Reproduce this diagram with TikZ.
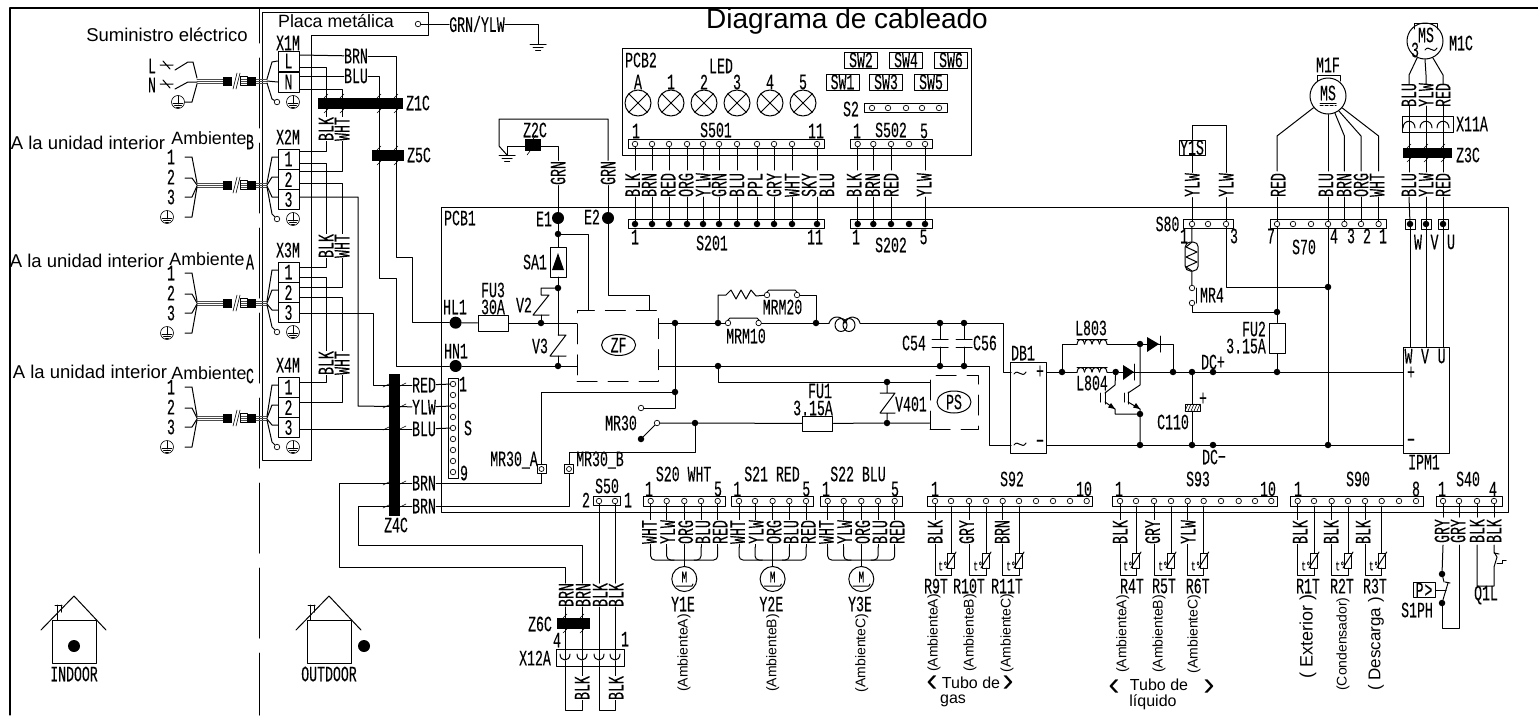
\documentclass[tikz,border=0pt]{standalone}
\usepackage{fontspec}
\setmainfont{Liberation Sans}
\newfontfamily\gothic[FakeStretch=0.6,FakeBold=0.15]{Liberation Mono}
\usetikzlibrary{arrows,shapes.geometric}
\tikzset{
  wire/.style={line width=1pt},
  thin wire/.style={line width=0.6pt},
  lbl/.style={font=\gothic\fontsize{22}{22}\selectfont,inner sep=0pt},
  vlbl/.style={lbl,rotate=90,fill=white,inner sep=0.5pt},
  arial/.style={font=\fontsize{18.5}{20}\selectfont,inner sep=0pt,align=left},
  amb/.style={font=\fontsize{17.8}{20}\selectfont,inner sep=0pt},
  varial/.style={font=\fontsize{14}{14}\selectfont,inner sep=0pt,rotate=90},
  pin/.style={circle,draw,line width=0.7pt,fill=white,minimum size=5.5pt,inner sep=0pt},
  pinb/.style={circle,fill=black,minimum size=6.5pt,inner sep=0pt},
  dot/.style={circle,fill=black,minimum size=6.5pt,inner sep=0pt},
  bigdot/.style={circle,fill=black,minimum size=12pt,inner sep=0pt},
  conbox/.style={draw,line width=1pt,fill=white,minimum height=9.5pt,inner sep=0pt},
  fuse/.style={draw,line width=1pt,inner sep=0pt},
  row/.style={lbl,draw,line width=1pt,minimum width=21pt,minimum height=20pt},
  swbox/.style={lbl,draw,line width=1pt,minimum width=33pt,minimum height=16pt},
  cbar/.style={fill=black,inner sep=0pt},
  motor/.style={circle,draw,line width=1pt,inner sep=0pt},
  zbox/.style={draw,dash pattern=on 20pt off 11pt,line width=1pt,inner sep=0pt},
  gnd/.pic={\draw[wire] (-8,0)--(8,0) (-5,3)--(5,3) (-2.5,6)--(2.5,6);},
  earth/.pic={\draw[thin wire] (0,0) circle (6.5);
    \draw[thin wire] (0,-6)--(0,2) (-5,1)--(5,1) (-3.5,3)--(3.5,3) (-1.5,5)--(1.5,5);},
  cable/.pic={\foreach \d in {-2,0,2} \draw[line width=1pt,black!70] (0,\d)--(70,\d);
    \fill[white] (35,-5) rectangle (43,5);
    \fill (26,-4.5) rectangle (35,4.5);
    \fill (50,-4.5) rectangle (59,4.5);
    \draw[thin wire] (43,-4.5) rectangle (50,4.5);
    \draw[thin wire] (36,8)--(40,-8) (39,8)--(43,-8);},
  coil/.pic={\foreach \i in {0,1,2,3}
      \draw[wire] (7.5*\i,0) .. controls +(0,-6) and +(0,-6) .. +(7.5,0);
    \draw[wire] (0,-5) -- (30,-5);},
  wave/.pic={\draw[wire] (-6,1) .. controls (-2,-5) and (2,6) .. (6,-1);}
}
\begin{document}
\begin{tikzpicture}[line cap=round,line join=round,>=triangle 45,x=1pt,y=-1pt]
\clip (0,0) rectangle (1538,715);
\draw [line width=1.1pt] (1538,8) -- (10,8) -- (10,715);
\draw [line width=1pt,dash pattern=on 70pt off 15pt,dash phase=35pt] (259,8) -- (259,715);
\draw [wire] (262,12) -- (428,12) -- (428,35) -- (311.5,35) -- (311.5,460) -- (262,460) -- cycle;
\node[font=\fontsize{28}{28}\selectfont,inner sep=0pt] (title) at (847,21) {Diagrama de cableado};
\node[amb] (placa) at (336,21) {Placa metálica};
\node[pin] (plate) at (418,24) {};
\node[lbl] (lgrnylw) at (477,24) {GRN/YLW};
\coordinate (earthtop) at (538,44);
\draw [wire] (plate) -- (lgrnylw);
\draw [wire] (lgrnylw) -- (538,24) -- (earthtop);
\pic at (earthtop) {gnd};
\node[arial] (suministro) at (167,35) {Suministro eléctrico};
\node[arial] (interb) at (88,143) {A la unidad interior};
\node[arial] (intera) at (87,261) {A la unidad interior};
\node[arial] (interc) at (90,372) {A la unidad interior};
\node[amb] (ambb) at (209,138) {Ambiente};
\node[amb] (ambat) at (207,259) {Ambiente};
\node[amb] (ambc) at (209,373) {Ambiente};
\node[lbl] (tagb) at (250,142) {B};
\node[lbl] (taga) at (250,262) {A};
\node[lbl] (tagc) at (250,376) {C};

\node[lbl] (x1m) at (288,43) {X1M};
\node[row] (x1m-l) at (288.5,61) {L};
\node[row] (x1m-n) at (288.5,82) {N};
\node[lbl] (ll) at (152,66) {L};
\node[lbl] (ln) at (152,85) {N};
\draw [wire] (160,65) -- (173,65) (163,61) -- (170,69);
\draw [wire] (160,84) -- (173,84) (163,80) -- (170,88);
\draw [wire] (175,70) -- (188,62) -- (193,62) -- (197,78);
\draw [wire] (175,89) -- (188,82) -- (197,82);
\pic at (178,102) {earth};
\draw [wire] (185,102) -- (192,102) -- (197,84);
\pic at (197,81) {cable};
\node[pin] (x1m-e) at (277,102) {};
\pic at (293,102) {earth};
\draw [wire] (267,79) -- (272,62) -- (x1m-l.west);
\draw [wire] (267,81) -- (x1m-n.west);
\draw [wire] (267,83) -- (272,99) -- (x1m-e);

\foreach \n/\c/\t/\l/\N in {x2m/185/149/157/X2M,x3m/303/262/273/X3M,x4m/418/377/387/X4M} {
  \node[row] (\n-1) at (288.5,\t+10) {1};
  \node[row] (\n-2) at (288.5,\t+30.5) {2};
  \node[row] (\n-3) at (288.5,\t+50.5) {3};
  \node[lbl] (l\n) at (288,\t-12) {\N};
  \node[pin] (\n-e) at (277,\t+70) {};
  \pic at (293,\t+70) {earth};
  \pic at (197,\c) {cable};
  \node[lbl] (f\n-1) at (171,\l) {1};
  \node[lbl] (f\n-2) at (171,\l+20) {2};
  \node[lbl] (f\n-3) at (171,\l+40) {3};
  \pic at (167,\l+60) {earth};
  \draw [wire] (185,\l) -- (192,\l) -- (197,\c-2);
  \draw [wire] (185,\l+21) -- (192,\l+21) -- (197,\c);
  \draw [wire] (185,\l+40) -- (192,\l+40) -- (197,\c+1);
  \draw [wire] (185,\l+60) -- (192,\l+60) -- (197,\c+2);
  \draw [wire] (267,\c-2) -- (272,\t+8) -- (278,\t+8);
  \draw [wire] (267,\c) -- (272,\t+28) -- (278,\t+28);
  \draw [wire] (267,\c+1) -- (272,\t+48) -- (278,\t+48);
  \draw [wire] (267,\c+2) -- (272,\t+65) -- (\n-e);
}

\draw [wire] (441.4,207) rectangle (1508,512);
\draw [wire] (622.7,48) rectangle (971.7,155);
\node[lbl] (pcb1) at (460,218) {PCB1};
\node[lbl] (pcb2) at (641,60) {PCB2};
\node[lbl] (led) at (721,66) {LED};
\node[swbox] (sw2) at (861,60) {SW2};
\node[swbox] (sw4) at (906,60) {SW4};
\node[swbox] (sw6) at (951,60) {SW6};
\node[swbox] (sw1) at (842.5,82) {SW1};
\node[swbox] (sw3) at (886,82) {SW3};
\node[swbox] (sw5) at (931,82) {SW5};
\foreach \i/\x/\t in {a/638/A,b/671/1,c/704/2,d/737/3,e/770/4,f/803/5} {
  \node[lbl] (lamptxt\i) at (\x,82) {\t};
  \draw [wire] (\x,103) circle (13);
  \draw [wire] (\x-9.2,103-9.2) -- (\x+9.2,103+9.2) (\x-9.2,103+9.2) -- (\x+9.2,103-9.2);
}
\node[lbl] (ls2) at (851,109) {S2};
\node[conbox,minimum width=83pt] (cs2) at (905.5,108) {};
\foreach \x in {872,888,906,922,939} \node[pin] (s2-\x) at (\x,108) {};

\node[conbox,minimum width=196pt] (cs501) at (726,144) {};
\node[conbox,minimum width=196pt] (cs201) at (726,224) {};
\node[conbox,minimum width=82pt] (cs502) at (891.7,144) {};
\node[conbox,minimum width=82pt] (cs202) at (891.7,224) {};
\foreach \i/\x in {1/635,2/652,3/669,4/687,5/703,6/719,7/737,8/757,9/774,10/792,11/817} {
  \node[pin] (s501-\i) at (\x,144) {};
  \node[pinb] (s201-\i) at (\x,224) {};
  \draw [wire] (s501-\i) -- (\x,170);
  \draw [wire] (\x,197) -- (s201-\i);
}
\foreach \i/\x/\t in {1/632.7/BLK,2/649/BRN,3/668/RED,4/686/ORG,5/703/YLW,6/719/GRN,7/737/BLU,8/755/PPL,9/774/GRY,10/792/WHT,11/809/SKY,12/827/BLU}
  \node[vlbl,fill=none] (w501-\i) at (\x,185) {\t};
\foreach \i/\x in {1/857.7,2/873.3,3/891,4/909,5/925} {
  \node[pin] (s502-\i) at (\x,144) {};
  \node[pinb] (s202-\i) at (\x,224) {};
}
\foreach \i/\x/\t in {1/854/BLK,2/872.7/BRN,3/891/RED,5/924/YLW} {
  \draw [wire] (s502-\i) -- (s502-\i |- 0,170);
  \draw [wire] (s502-\i |- 0,197) -- (s202-\i);
  \node[vlbl,fill=none] (w502-\i) at (\x,185) {\t};
}
\node[lbl] (n501a) at (636,131) {1};
\node[lbl] (n501b) at (716,130) {S501};
\node[lbl] (n501c) at (816,131) {11};
\node[lbl] (n502a) at (857,131) {1};
\node[lbl] (n502b) at (891,130) {S502};
\node[lbl] (n502c) at (924,131) {5};
\node[lbl] (n201a) at (635,237) {1};
\node[lbl] (n201b) at (712,243) {S201};
\node[lbl] (n201c) at (815,237) {11};
\node[lbl] (n202a) at (856,237) {1};
\node[lbl] (n202b) at (891,245) {S202};
\node[lbl] (n202c) at (923.6,237) {5};

\node[bigdot] (hl1) at (455.6,322.7) {};
\node[bigdot] (hn1) at (455.6,366) {};
\node[bigdot] (e1) at (558,218) {};
\node[bigdot] (e2) at (608,218) {};
\node[lbl] (lhl1) at (455,307) {HL1};
\node[lbl] (lhn1) at (456,351) {HN1};
\node[lbl] (le1) at (544,219) {E1};
\node[lbl] (le2) at (592,217) {E2};
\foreach \n/\x/\y in {j1/558/234,j2/558/288,j3/541/323,j4/558/366,j5/675/323,j6/718/323,j7/816/323,j8/940/323,j9/964/323,j10/718/366,j11/940/366,j12/964/366,j13/675/392,j14/695/423,j15/887/382,j16/887/423}
  \node[dot] (\n) at (\x,\y) {};
\foreach \n/\x/\y in {k1/1062/372,k2/1115.7/372,k3/1140/344,k4/1173/372,k5/1192/372,k6/1213/372,k7/1277/372,k8/1277/312,k9/1328/287,k10/1140/414,k11/1140/445,k12/1192/445,k13/1213/445,k14/1328/445}
  \node[dot] (\n) at (\x,\y) {};

\node[lbl] (lbrn) at (356,56) {BRN};
\node[lbl] (lblu) at (356,76) {BLU};
\draw [wire] (x1m-l.east |- 0,55) -- (lbrn);
\draw [wire] (lbrn) -- (396,56) -- (396,257) -- (412,257) -- (412,322.7) -- (hl1);
\draw [wire] (x1m-n.east |- 0,76) -- (lblu);
\draw [wire] (lblu) -- (379,76) -- (379,278) -- (396,278) -- (396,366) -- (hn1);
\draw [wire] (x1m-l.east |- 0,67) -- (326,67) -- (326,151) -- (x2m-1.east |- 0,151);
\draw [wire] (x1m-n.east |- 0,89) -- (342,89) -- (342,171) -- (x2m-2.east |- 0,171);
\draw [wire] (x2m-1.east |- 0,163) -- (326,163) -- (326,267) -- (x3m-1.east |- 0,267);
\draw [wire] (x2m-2.east |- 0,183) -- (342,183) -- (342,287) -- (x3m-2.east |- 0,287);
\draw [wire] (x3m-1.east |- 0,277) -- (326,277) -- (326,382) -- (x4m-1.east |- 0,382);
\draw [wire] (x3m-2.east |- 0,297) -- (342,297) -- (342,402) -- (x4m-2.east |- 0,402);
\foreach \n/\x/\y/\t in {b1/326/129/BLK,w1/342/129/WHT,b2/326/246/BLK,w2/342/246/WHT,b3/326/363/BLK,w3/342/363/WHT}
  \node[vlbl] (lw\n) at (\x,\y) {\t};

\node[conbox,minimum width=10pt,minimum height=100pt] (cons) at (453,428) {};
\foreach \i/\y in {1/384,2/395,3/406,4/417,5/428,6/439,7/450,8/461,9/472}
  \node[pin] (s-\i) at (453,\y) {};
\node[lbl] (ls1) at (463,384) {1};
\node[lbl] (lss) at (468,428) {S};
\node[lbl] (ls9) at (464,473) {9};
\node[lbl] (lred) at (424,385) {RED};
\node[lbl] (lylw) at (424,407) {YLW};
\node[lbl] (lblu4) at (424,429) {BLU};
\node[lbl] (lbrna) at (424,483) {BRN};
\node[lbl] (lbrnb) at (424,506) {BRN};
\draw [wire] (x3m-3.east |- 0,313) -- (373,313) -- (373,385) -- (lred);
\draw [wire] (lred) -- (s-1);
\draw [wire] (x2m-3.east |- 0,197) -- (358,197) -- (358,406) -- (lylw);
\draw [wire] (lylw) -- (s-3);
\draw [wire] (x4m-3.east |- 0,429) -- (lblu4);
\draw [wire] (lblu4) -- (s-5);

\node[draw,line width=1pt,minimum size=9pt,inner sep=0pt] (mr30a) at (541.5,469) {};
\node[draw,line width=1pt,minimum size=9pt,inner sep=0pt] (mr30b) at (569,469) {};
\node[pin,minimum size=5pt] (mr30apin) at (541.5,469) {};
\node[pin,minimum size=5pt] (mr30bpin) at (569,469) {};
\node[lbl] (lmr30a) at (514,460) {MR30\_A};
\node[lbl] (lmr30b) at (600,460) {MR30\_B};
\draw [wire] (lbrna) -- (541.5,483) -- (mr30a);
\draw [wire] (mr30a) -- (541.5,392) -- (j13);
\draw [wire] (lbrnb) -- (569,506) -- (mr30b);
\draw [wire] (mr30b) -- (569,452) -- (695,452) -- (j14);
\draw [wire] (lbrna) -- (339,483) -- (339,567) -- (565,567) -- (565,583);
\draw [wire] (lbrnb) -- (358,506) -- (358,545) -- (582,545) -- (582,583);

\node[lbl] (ls50) at (607,486) {S50};
\node[conbox,minimum width=27pt] (cs50) at (607,501) {};
\node[pin] (s50-2) at (599,501) {};
\node[pin] (s50-1) at (615,501) {};
\node[lbl] (n50b) at (586,500) {2};
\node[lbl] (n50a) at (628,500) {1};
\draw [wire] (s50-2) -- (599,583);
\draw [wire] (s50-1) -- (615,583);
\foreach \x/\t in {565/BRN,582/BRN,599/BLK,615/BLK} {
  \node[vlbl,fill=none] (lz6-\x) at (\x+1,595) {\t};
  \draw [wire] (\x,607) -- (\x,660);
}
\node[draw,line width=1pt,minimum width=68pt,minimum height=17pt,inner sep=0pt] (x12a) at (590,657.5) {};
\foreach \x in {565,582,599,615}
  \draw [wire] (\x-5,654) .. controls (\x-5,662) and (\x+5,662) .. (\x+5,654);
\node[lbl] (lx12a) at (535,658) {X12A};
\node[lbl] (n12a) at (557,640) {4};
\node[lbl] (n12b) at (625,639) {1};
\node[lbl] (lz6c) at (540,624) {Z6C};
\draw [wire] (565,661) -- (565,710) -- (582,710) -- (582,661);
\draw [wire] (599,661) -- (599,710) -- (615,710) -- (615,661);
\node[vlbl] (lx12l) at (582,688) {BLK};
\node[vlbl] (lx12r) at (616,688) {BLK};

\foreach \hx/\nm/\tx/\cx in {74/indoor/INDOOR/-19,329/outdoor/OUTDOOR/-21} {
  \draw [wire] (\hx-33,630) -- (\hx,596) -- (\hx+32,630);
  \draw [wire] (\hx-22,620) rectangle (\hx+22,663);
  \draw [wire] (\hx+\cx,605) -- (\hx+\cx+7,605) (\hx+\cx+2,605) -- (\hx+\cx+2,620) (\hx+\cx+6,605) -- (\hx+\cx+6,612);
  \node[lbl] (l\nm) at (\hx,674) {\tx};
}
\node[bigdot] (dotin) at (74,646) {};
\node[bigdot] (dotout) at (364,646) {};

\node[lbl] (lz2c) at (535,130) {Z2C};
\node[vlbl] (lgrna) at (558,173) {GRN};
\node[vlbl] (lgrnb) at (608,173) {GRN};
\coordinate (earthmid) at (507,155);
\draw [wire] (lgrnb) -- (608,119) -- (499,119) -- (499,146) -- (earthmid);
\draw [wire] (earthmid) -- (507,146) -- (558,146) -- (lgrna);
\pic at (earthmid) {gnd};
\draw [wire] (lgrna) -- (e1);
\draw [wire] (lgrnb) -- (e2);
\draw [wire] (e1) -- (j1) -- (558,247);
\draw [wire] (558,277) -- (j2) -- (558,335);
\draw [wire] (558,356) -- (j4);
\draw [wire] (550,247) rectangle (566,277);
\fill (558,253) -- (552,270) -- (564,270) -- cycle;
\node[lbl] (lsa1) at (535,262) {SA1};
\draw [wire] (j2) -- (541,288) -- (541,295) -- (549,295) -- (533,315) -- (549,315);
\draw [wire] (541,315) -- (j3);
\draw [wire] (558,335) -- (566,335) -- (550,356) -- (566,356);
\node[lbl] (lv2) at (524,305) {V2};
\node[lbl] (lv3) at (540,346) {V3};
\node[fuse,minimum width=30.5pt,minimum height=16pt] (fu3) at (493.3,323) {};
\node[lbl] (lfu3a) at (493,290) {FU3};
\node[lbl] (lfu3b) at (493,307) {30A};
\node[zbox,minimum width=81.6pt,minimum height=71pt] (zfbox) at (618,345.5) {};
\node[draw,ellipse,line width=1pt,minimum width=34pt,minimum height=21pt,inner sep=0pt] (zf) at (618.6,345) {};
\node[lbl] (lzf) at (618.6,345) {ZF};
\draw [wire] (hl1) -- (fu3);
\draw [wire] (fu3) -- (zfbox.west |- 0,323);
\draw [wire] (hn1) -- (zfbox.west |- 0,366);
\draw [wire] (j1) -- (588,234) -- (588,310);
\draw [wire] (e2) -- (608,295) -- (649,295) -- (649,310);
\draw [wire] (zfbox.east |- 0,323) -- (j5) -- (j6) -- (728,323);
\draw [wire] (zfbox.east |- 0,366) -- (j10) -- (j11) -- (j12) -- (989.6,366) -- (989.6,445) -- (1011,445);
\draw [wire] (j5) -- (j13) -- (675,408);
\node[pin] (mr30l) at (641,408) {};
\draw [wire] (675,408) -- (mr30l);
\node[pin] (mr30r) at (657,423) {};
\node[dot] (mr30d) at (641,439) {};
\draw [wire] (mr30r) -- (mr30d);
\node[lbl] (lmr30) at (621,423) {MR30};
\node[fuse,minimum width=30.5pt,minimum height=15pt] (fu1) at (817.7,423.5) {};
\node[lbl] (lfu1a) at (820,391) {FU1};
\node[lbl] (lfu1b) at (813,408) {3.15A};
\draw [wire] (mr30r) -- (j14) -- (fu1);
\node[zbox,minimum width=48pt,minimum height=54pt] (psbox) at (954,402) {};
\node[draw,ellipse,line width=1pt,minimum width=34pt,minimum height=22pt,inner sep=0pt] (ps) at (954,402) {};
\node[lbl] (lps) at (954,402) {PS};
\draw [wire] (fu1) -- (j16) -- (psbox.west |- 0,423);
\draw [wire] (j10) -- (718,382) -- (j15) -- (psbox.west |- 0,382);
\draw [wire] (j15) -- (887,393) (880,393) -- (895,393) -- (880,413) -- (895,413) (887,413) -- (j16);
\node[lbl] (lv401) at (911,404) {V401};

\node[pin] (mrm20a) at (767,295) {};
\node[pin] (mrm20b) at (797,295) {};
\node[pin] (mrm10a) at (728,323) {};
\node[pin] (mrm10b) at (758.6,323) {};
\node[lbl] (lmrm20) at (782.5,307) {MRM20};
\node[lbl] (lmrm10) at (746,336) {MRM10};
\draw [wire] (j6) -- (718,295) -- (726,295) -- (731,290) -- (736,299) -- (741,290) -- (746,299) -- (751,290) -- (756,296) -- (mrm20a);
\draw [wire] (767,292) -- (769,290) -- (795,290) -- (797,292);
\draw [wire] (728,320) -- (730,318) -- (757,318) -- (759,320);
\draw [wire] (mrm20b) -- (816,295) -- (j7);
\draw [wire] (mrm10b) -- (j7) -- (829,323);
\draw [wire] (829,323) .. controls (832,315) and (842,315) .. (845,323);
\draw [wire] (845,323) .. controls (848,315) and (858,315) .. (860,323);
\draw [wire] (841,325) ellipse (6 and 6.5);
\draw [wire] (849,325) ellipse (6 and 6.5);
\draw [wire] (860,323) -- (j8) -- (j9) -- (1003,323) -- (1003,372) -- (1011,372);
\draw [wire] (j8) -- (940,339) (932,339) -- (948,339) (932,347) -- (948,347) (940,347) -- (j11);
\draw [wire] (j9) -- (964,339) (956,339) -- (972,339) (956,347) -- (972,347) (964,347) -- (j12);
\node[lbl] (lc54) at (914,343) {C54};
\node[lbl] (lc56) at (985,343) {C56};

\node[fuse,minimum width=35.5pt,minimum height=91pt] (db1) at (1028.7,407.5) {};
\node[lbl] (ldb1) at (1023,353) {DB1};
\pic at (1020,373) {wave};
\pic at (1020,444) {wave};
\node[lbl] (dbc) at (1040,372) {+};
\node[lbl] (dbd) at (1040,444) {−};
\node[fuse,minimum width=46pt,minimum height=106pt] (ipm1) at (1426,400) {};
\node[lbl] (lipm1) at (1424,462) {IPM1};
\node[lbl] (ipmw) at (1408.5,356) {W};
\node[lbl] (ipmv) at (1425,356) {V};
\node[lbl] (ipmu) at (1441.6,356) {U};
\node[lbl] (ipmp) at (1411,373) {+};
\node[lbl] (ipmn) at (1411,443) {−};

\draw [wire] (db1.east |- 0,372) -- (k1) -- (1077,372);
\pic at (1077,372) {coil};
\draw [wire] (1107,372) -- (k2) -- (k4) -- (k5) -- (k6) -- (k7) -- (ipm1.west |- 0,372);
\draw [wire] (db1.east |- 0,445) -- (k11) -- (k12) -- (k13) -- (k14) -- (ipm1.west |- 0,445);
\draw [wire] (k1) -- (1062,344) -- (1077,344);
\pic at (1077,344) {coil};
\draw [wire] (1107,344) -- (k3) -- (1173,344) -- (k4);
\fill (1147,337) -- (1147,352) -- (1159,344) -- cycle;
\draw [wire] (1160,336) -- (1160,352);
\fill (1123,365) -- (1123,380) -- (1134,372) -- cycle;
\draw [wire] (1134,364) -- (1134,380);
\node[lbl] (ll803) at (1091,328) {L803};
\node[lbl] (ll804) at (1092,383) {L804};
\draw [wire] (k2) -- (1115,385) -- (1105,393);
\draw [wire] (1105,392) -- (1105,404) (1100,393) -- (1100,402);
\draw [wire] (1105,402) -- (1115,409) -- (1115,414) -- (k10);
\fill (1115,409) -- (1108,407.5) -- (1111,403) -- cycle;
\draw [wire] (k3) -- (1140,385) -- (1128,393);
\draw [wire] (1128,392) -- (1128,404) (1124,393) -- (1124,402);
\draw [wire] (1128,402) -- (1140,409) -- (k10) -- (k11);
\fill (1140,409) -- (1133,407.5) -- (1136,403) -- cycle;
\draw [wire] (k5) -- (1192,404) (1192,411) -- (k12);
\draw [thin wire] (1185,404) rectangle (1200,411);
\foreach \d in {0,3,6,9,12} \draw [thin wire] (1185+\d,411) -- (1188+\d,404);
\node[lbl] (pc110) at (1203,399) {+};
\node[lbl] (lc110) at (1173,422) {C110};
\node[lbl] (ldcp) at (1213,362) {DC+};
\node[lbl] (ldcn) at (1214,457) {DC−};

\node[conbox,minimum width=50pt] (cs80) at (1208.6,224) {};
\node[pin] (s80-1) at (1192,224) {};
\node[pin] (s80-2) at (1208,224) {};
\node[pin] (s80-3) at (1226,224) {};
\node[lbl] (ls80) at (1167.5,224) {S80};
\node[lbl] (n80a) at (1184,236) {1};
\node[lbl] (n80b) at (1234,236) {3};
\node[conbox,minimum width=116pt] (cs70) at (1328.2,224) {};
\foreach \i/\x in {7/1277,6/1293,5/1311,4/1328,3/1344.4,2/1361,1/1378.6}
  \node[pin] (s70-\i) at (\x,224) {};
\foreach \x/\t in {1271/7,1334/4,1351/3,1367/2,1383/1}
  \node[lbl] (n70-\t) at (\x,236) {\t};
\node[lbl] (ls70) at (1304,247) {S70};

\node[draw,line width=1pt,rounded corners=5pt,minimum width=13pt,minimum height=29pt,inner sep=0pt] (thm) at (1191.7,256.5) {};
\draw [wire] (s80-1) -- (thm);
\draw [wire] (1192,242) -- (1186,247) -- (1197,252) -- (1186,257) -- (1197,262) -- (1186,267) -- (1192,271);
\node[pin] (mr4a) at (1192,288) {};
\node[pin] (mr4b) at (1192,303) {};
\draw [wire] (thm) -- (mr4a);
\draw [wire] (1196,288) -- (1196,303);
\node[lbl] (lmr4) at (1212,295) {MR4};
\draw [wire] (mr4b) -- (1192,312) -- (k8);
\draw [wire] (s80-3) -- (1226,287) -- (k9);
\node[fuse,minimum width=16pt,minimum height=30pt] (fu2) at (1277,338) {};
\node[lbl] (lfu2a) at (1254,329) {FU2};
\node[lbl] (lfu2b) at (1246,346) {3.15A};
\draw [wire] (s70-7) -- (k8) -- (fu2);
\draw [wire] (fu2) -- (k7);
\draw [wire] (s70-4) -- (k9) -- (k14);

\node[fuse,lbl,minimum width=26pt,minimum height=15pt] (y1s) at (1192,147.5) {Y1S};
\coordinate (y1stop) at (1192,125);
\node[vlbl] (ly1a) at (1192,185) {YLW};
\node[vlbl] (ly1b) at (1226,185) {YLW};
\draw [wire] (s80-1) -- (ly1a);
\draw [wire] (ly1a) -- (y1s);
\draw [wire] (y1s) -- (y1stop) -- (1226,125) -- (ly1b);
\draw [wire] (ly1b) -- (s80-3);

\node[motor,minimum size=36pt] (m1f) at (1328,96) {};
\node[lbl] (lms) at (1328,93) {MS};
\draw [wire] (1320,103) -- (1336,103);
\draw [wire,dash pattern=on 3pt off 2pt] (1320,105.5) -- (1336,105.5);
\node[lbl] (lm1f) at (1328,65) {M1F};
\draw [wire] (1317,81) -- (1317,75) -- (1340,75) -- (1340,81);
\foreach \a/\t/\x/\lx/\ang in {7/RED/1277/1278/219,3/BRN/1344.4/1344/292,2/ORG/1361/1361/306,1/WHT/1378.6/1377/320} {
  \node[vlbl,fill=none] (lm1-\t) at (\lx,185) {\t};
  \draw [wire] (s70-\a) -- (\x,197);
  \draw [wire] (\x,171) -- (\x,136) -- (m1f.\ang);
}
\node[vlbl,fill=none] (lm1-BLU) at (1326,185) {BLU};
\draw [wire] (s70-4) -- (1328,197);
\draw [wire] (1328,171) -- (m1f.south);

\node[motor,minimum size=36pt] (m1c) at (1425,41) {};
\node[lbl] (lms2) at (1426,35) {MS};
\node[lbl] (lms3) at (1415,50) {3};
\pic at (1431,49) {wave};
\node[lbl] (lm1c) at (1461,43) {M1C};
\draw [wire] (1414,29) -- (1414,23) -- (1437,23) -- (1437,29);
\node[fuse,minimum width=51pt,minimum height=16pt] (x11a) at (1427.5,124) {};
\node[lbl] (lx11a) at (1472,124) {X11A};
\foreach \i/\x/\y/\t/\ang in {w/1409/1410/BLU/245,v/1426/1426/YLW/270,u/1443/1443/RED/295} {
  \draw [wire] (m1c.\ang) -- (\x,75) -- (\x,84);
  \node[vlbl,fill=none] (lx11-\t) at (\x,95) {\t};
  \draw [wire] (\x,106) -- (\x,120);
  \draw [wire] (\x-6,128) .. controls (\x-6,119) and (\x+6,119) .. (\x+6,128);
  \draw [wire] (\x,120) -- (\x,172);
  \node[vlbl,fill=none] (lcm-\t) at (\x,185) {\t};
  \node[draw,line width=0.7pt,minimum size=10pt,inner sep=0pt] (term\i) at (\y,224) {};
  \node[dot] (termd\i) at (\y,224) {};
  \draw [wire] (\x,197) -- (termd\i);
  \draw [wire] (termd\i) -- (\y,347);
}
\node[lbl] (tw) at (1418,242) {W};
\node[lbl] (tv) at (1434.5,242) {V};
\node[lbl] (tu) at (1451,242) {U};

\node[lbl] (ls20) at (683.6,474) {S20 WHT};
\node[lbl] (ls21) at (772,474) {S21 RED};
\node[lbl] (ls22) at (858,474) {S22 BLU};
\foreach \n/\o/\tag in {20/0/Y1E,21/88.3/Y2E,22/177/Y3E} {
  \node[conbox,minimum width=82pt] (cs\n) at (684+\o,501.5) {};
  \foreach \i/\x/\t/\lx in {1/650.7/WHT/649.3,2/666.7/YLW/667.7,3/684.3/ORG/685.7,4/701/BLU/703,5/717.7/RED/720} {
    \node[pin] (s\n-\i) at (\x+\o,501) {};
    \draw [wire] (s\n-\i) -- (\x+\o,547);
    \node[vlbl] (ls\n-\i) at (\lx+\o,532) {\t};
  }
  \node[lbl] (n\n a) at (649+\o,489) {1};
  \node[lbl] (n\n b) at (718+\o,489) {5};
  \draw [wire,rounded corners=4pt] (650.7+\o,547) -- (650.7+\o,560) -- (717.7+\o,560) -- (717.7+\o,547);
  \draw [wire,rounded corners=4pt] (666.7+\o,547) -- (666.7+\o,560) -- (674+\o,560);
  \draw [wire,rounded corners=4pt] (701+\o,547) -- (701+\o,560) -- (694+\o,560);
  \node[motor,minimum size=25pt] (m\n) at (684.3+\o,579) {};
  \draw [wire] (684.3+\o,547) -- (m\n);
  \node[lbl,font=\gothic\fontsize{16}{16}\selectfont] (lm\n) at (684.3+\o,577) {M};
  \draw [wire] (676+\o,586) -- (692+\o,586) -- (693+\o,584);
  \node[lbl] (lf\n) at (683+\o,604) {\tag};
}
\node[varial] (ambz1) at (684,653) {(AmbienteA)};
\node[varial] (ambz2) at (772.7,653) {(AmbienteB)};
\node[varial] (ambz3) at (861.7,653) {(AmbienteC)};

\node[lbl] (ls92) at (1012,479) {S92};
\node[lbl] (ls93) at (1198,479) {S93};
\node[lbl] (ls90) at (1358,479) {S90};
\node[lbl] (ls40) at (1468,479) {S40};
\node[conbox,minimum width=165pt] (cs92) at (1010.3,501.5) {};
\node[conbox,minimum width=165pt] (cs93) at (1195.3,501.5) {};
\node[conbox,minimum width=133pt] (cs90) at (1356.5,501.5) {};
\node[conbox,minimum width=66pt] (cs40) at (1469,501.5) {};
\foreach \i/\x in {1/935,2/951,3/969,4/986,5/1002.7,6/1019,7/1036,8/1053,9/1070,10/1086.7}
  \node[pin] (s92-\i) at (\x,501) {};
\foreach \i/\x in {1/1120,2/1136,3/1154,4/1171,5/1187.7,6/1203.7,7/1221,8/1238.7,9/1255,10/1271.3}
  \node[pin] (s93-\i) at (\x,501) {};
\foreach \i/\x in {1/1297.7,2/1314,3/1331.7,4/1348,5/1365,6/1381.7,7/1399,8/1416}
  \node[pin] (s90-\i) at (\x,501) {};
\foreach \i/\x in {1/1443,2/1459,3/1477,4/1494}
  \node[pin] (s40-\i) at (\x,501) {};
\foreach \n/\x/\t in {a/935/1,b/1084/10,c/1119/1,d/1268/10,e/1298/1,f/1416/8,g/1442/1,h/1493/4}
  \node[lbl] (npin\n) at (\x,489) {\t};

\foreach \s/\a/\xa/\xb/\t/\lx/\r/\rx in {s92/1/935/951/BLK/935/R9T/936,s92/3/969/986/GRY/966.7/R10T/969,s92/5/1002.7/1019/BRN/1002/R11T/1007,s93/1/1120/1136/BLK/1120/R4T/1132,s93/3/1154/1171/GRY/1152.7/R5T/1164,s93/5/1187.7/1203.7/YLW/1188/R6T/1197.7,s90/1/1297.7/1314/BLK/1300/R1T/1308,s90/3/1331.7/1348/BLK/1331/R2T/1342,s90/5/1365/1381.7/BLK/1363/R3T/1375} {
  \draw [wire] (\s-\a) -- (\xa,575) -- (\xb,575) -- (\xb,568);
  \draw [wire] (\xb-3.3,553) rectangle (\xb+3.3,568);
  \draw [wire] (\xb,506) -- (\xb,553);
  \draw [wire] (\xb-5,568) -- (\xb+5,552);
  \node[vlbl] (l\r) at (\lx,532) {\t};
  \node[lbl] (\r) at (\rx,586) {\r};
  \node[lbl,font=\gothic\fontsize{13}{13}\selectfont] (t\r) at (\xb-8,566) {t°};
}
\node[varial] (ambg1) at (934,633) {(AmbienteA)};
\node[varial] (ambg2) at (970,633) {(AmbienteB)};
\node[varial] (ambg3) at (1007,633) {(AmbienteC)};
\node[varial] (ambl1) at (1122.7,634) {(AmbienteA)};
\node[varial] (ambl2) at (1159,634) {(AmbienteB)};
\node[varial] (ambl3) at (1194,634) {(AmbienteC)};
\node[varial,font=\fontsize{18}{18}\selectfont] (extr) at (1308,636) {( Exterior )};
\node[varial] (cond) at (1343,644) {(Condensador)};
\node[varial,font=\fontsize{17}{17}\selectfont] (desc) at (1376,644) {( Descarga )};
\node[arial,font=\fontsize{16}{16}\selectfont] (tuboa) at (971,683) {Tubo de};
\node[arial,font=\fontsize{16}{16}\selectfont] (gas) at (953,701) {gas};
\node[arial,font=\fontsize{16}{16}\selectfont] (tubob) at (1159,685) {Tubo de};
\node[arial,font=\fontsize{16}{16}\selectfont] (liq) at (1153,702) {líquido};
\node[arial,font=\fontsize{34}{34}\selectfont] (ca) at (932,684) {‹};
\node[arial,font=\fontsize{34}{34}\selectfont] (cb) at (1008,684) {›};
\node[arial,font=\fontsize{34}{34}\selectfont] (cc) at (1114,688) {‹};
\node[arial,font=\fontsize{34}{34}\selectfont] (cd) at (1209,688) {›};

\node[dot] (s1pa) at (1442,574) {};
\node[dot] (s1pb) at (1442,603) {};
\foreach \i/\x/\t in {1/1442/GRY,2/1458/GRY,3/1477/BLK,4/1494/BLK}
  \node[vlbl,fill=none] (ls40-\i) at (\x,531) {\t};
\draw [wire] (s40-1) -- (1443,517);
\draw [wire] (1443,545) -- (s1pa) -- (1444,582);
\draw [wire] (s1pb) -- (1448,583);
\draw [wire] (1445,582) -- (1450,583);
\draw [wire] (s1pb) -- (1442,628) -- (1459,628) -- (1459,545);
\draw [wire] (s40-2) -- (1459,517);
\node[fuse,lbl,minimum width=22pt,minimum height=14pt] (p1) at (1424,590) {P\kern1pt>};
\draw [wire] (p1) -- (1446,590);
\node[lbl] (ls1ph) at (1417,610) {S1PH};
\draw [wire] (s40-3) -- (1477,517);
\draw [wire] (1477,545) -- (1477,586) -- (1494,586) -- (1494,567) -- (1497,557) -- (1494,552) -- (1494,545);
\draw [wire] (s40-4) -- (1494,517);
\draw [wire] (1494,553) -- (1499,554);
\draw [wire] (1497,563) -- (1502,563) -- (1502,560) -- (1506,560);
\node[lbl] (lq1l) at (1486,595) {Q1L};

\node[cbar,minimum width=85pt,minimum height=11pt] (z1c) at (360.5,103.5) {};
\node[lbl] (lz1c) at (418,103) {Z1C};
\node[cbar,minimum width=32pt,minimum height=11pt] (z5c) at (388,155.5) {};
\node[lbl] (lz5c) at (419,155) {Z5C};
\node[cbar,minimum width=11pt,minimum height=142pt] (z4c) at (394.5,445) {};
\node[lbl] (lz4c) at (396,525) {Z4C};
\node[cbar,minimum width=33pt,minimum height=11pt] (z6c) at (573.5,623.5) {};
\node[cbar,minimum width=49pt,minimum height=10pt] (z3c) at (1427.5,153) {};
\node[lbl] (lz3c) at (1468,155) {Z3C};
\node[cbar,minimum width=16pt,minimum height=12pt] (z2c) at (533,145) {};
\foreach \x in {326,342,379,396} \draw [thin wire] (\x-2,98) -- (\x+2,94) (\x-2,113) -- (\x+2,109);
\foreach \x in {379,396} \draw [thin wire] (\x-2,150) -- (\x+2,146) (\x-2,165) -- (\x+2,161);
\foreach \x in {565,582} \draw [thin wire] (\x-2,618) -- (\x+2,614) (\x-2,633) -- (\x+2,629);
\foreach \x in {1409,1426,1443} \draw [thin wire] (\x-2,148) -- (\x+2,144) (\x-2,162) -- (\x+2,158);
\foreach \y in {385,406,428,483,506} \draw [thin wire] (383,\y+2) -- (389,\y-1) (400,\y+1) -- (406,\y-2);
\draw [thin wire] (533,139) -- (536,135) (530,151) -- (527,155);
\end{tikzpicture}
\end{document}
